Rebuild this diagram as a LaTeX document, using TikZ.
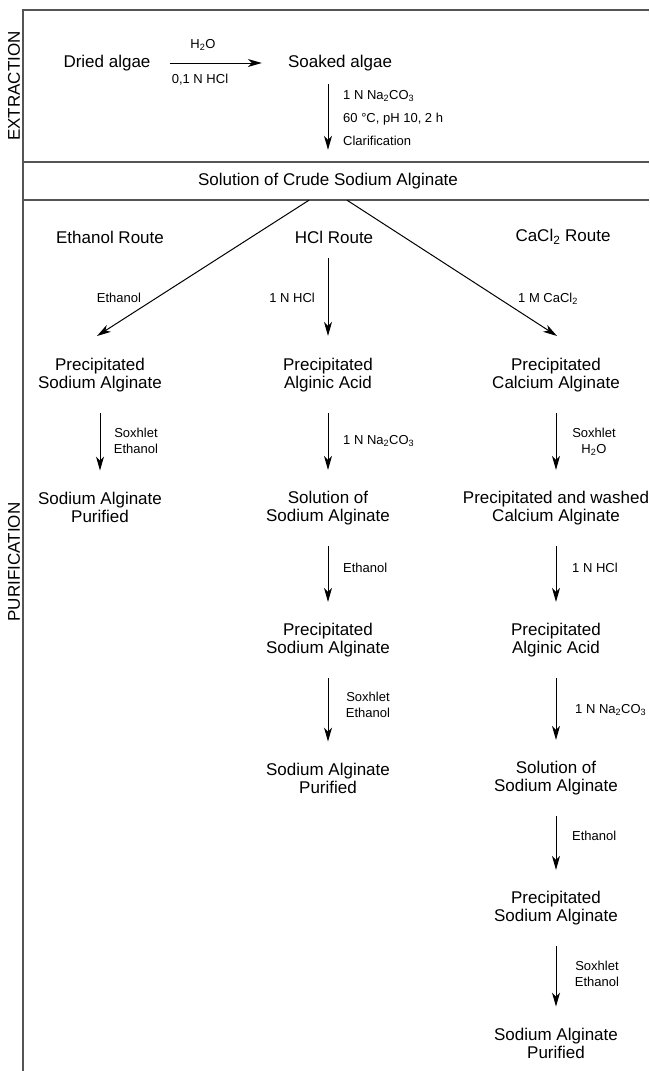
\documentclass[tikz,border=0pt]{standalone}
\usepackage{fontspec}
\setmainfont{Liberation Sans}
\usetikzlibrary{arrows.meta}
\definecolor{frameGray}{RGB}{85,85,85}
\newcommand{\stagefont}{\fontsize{17}{18}\selectfont}
\newcommand{\notefont}{\fontsize{13}{16}\selectfont}

\begin{document}
\begin{tikzpicture}[x=1pt,y=-1pt,
  stage/.style={font=\stagefont,align=center,inner sep=3pt},
  note/.style={font=\notefont,align=center,inner sep=0pt},
  flow/.style={-{Stealth[length=14pt,width=8pt,inset=4pt]},line width=1pt,
    shorten <=18pt,shorten >=18pt},
  frame/.style={frameGray,line width=1.1pt}]
  \useasboundingbox (0,0) rectangle (649,1071);

  % frame and the crude solution band
  \draw[frame] (23,1071) -- (23,10) -- (649,10);
  \draw[frame] (23,162) -- (649,162);
  \draw[frame] (23,200) -- (649,200);
  \node[rotate=90,font=\stagefont] (extr) at (14,86) {EXTRACTION};
  \node[rotate=90,font=\stagefont] (purif) at (14,562) {PURIFICATION};

  % extraction
  \node[stage] (dried) at (107,63) {Dried algae};
  \node[stage] (soaked) at (340,63) {Soaked algae};
  \node[stage,minimum height=38pt] (crude) at (328,181) {Solution of Crude Sodium Alginate};
  \draw[flow,shorten <=16pt,shorten >=23pt] (dried) -- (soaked);
  \node[note] (water) at (203,45) {H\textsubscript{2}O};
  \node[note] (acid01) at (200,80) {0,1 N HCl};
  \draw[flow,shorten <=10pt,shorten >=12pt] (soaked.south -| crude.north) -- (crude.north);
  \node[note,anchor=west,align=left,font=\fontsize{13}{23}\selectfont] (alkali) at (343,118)
    {1 N Na\textsubscript{2}CO\textsubscript{3}\\60 °C, pH 10, 2 h\\Clarification};

  % the three routes
  \node[stage] (routeEth) at (110,237) {Ethanol Route};
  \node[stage] (routeHCl) at (334,237) {HCl Route};
  \node[stage] (routeCa) at (563,237) {CaCl\textsubscript{2} Route};
  \coordinate (tipEth) at (97,336);
  \coordinate (tipCa) at (557,336);
  \draw[flow,shorten <=0pt,shorten >=0pt] ([xshift=-19pt]crude.south) -- (tipEth);
  \draw[flow,shorten <=0pt,shorten >=0pt] ([xshift=19pt]crude.south) -- (tipCa);
  \node[note] (ethA) at (119,298) {Ethanol};
  \node[note,anchor=east] (hclA) at (315,298) {1 N HCl};
  \node[note,anchor=west] (caA) at (518,299) {1 M CaCl\textsubscript{2}};

  % ethanol route
  \node[stage] (ethPrec) at (100,375) {Precipitated\\Sodium Alginate};
  \node[stage] (ethPure) at (100,507) {Sodium Alginate\\Purified};
  \draw[flow] (ethPrec) -- (ethPure);
  \node[note] (ethB) at (136,441) {Soxhlet\\Ethanol};

  % HCl route
  \node[stage] (hclAcid) at (328,375) {Precipitated\\Alginic Acid};
  \node[stage] (hclSol) at (328,508) {Solution of\\Sodium Alginate};
  \node[stage] (hclPrec) at (328,640) {Precipitated\\Sodium Alginate};
  \node[stage] (hclPure) at (328,778) {Sodium Alginate\\Purified};
  \draw[flow,shorten <=12pt,shorten >=19pt] (routeHCl.south -| hclAcid.north) -- (hclAcid.north);
  \draw[flow] (hclAcid) -- (hclSol);
  \draw[flow] (hclSol) -- (hclPrec);
  \draw[flow] (hclPrec) -- (hclPure);
  \node[note,anchor=west] (hclB) at (343,441) {1 N Na\textsubscript{2}CO\textsubscript{3}};
  \node[note,anchor=west] (hclC) at (343,568) {Ethanol};
  \node[note] (hclD) at (368,705) {Soxhlet\\Ethanol};

  % CaCl2 route
  \node[stage] (caPrec) at (556,375) {Precipitated\\Calcium Alginate};
  \node[stage] (caWash) at (556,508) {Precipitated and washed\\Calcium Alginate};
  \node[stage] (caAcid) at (556,640) {Precipitated\\Alginic Acid};
  \node[stage] (caSol) at (556,778) {Solution of\\Sodium Alginate};
  \node[stage] (caNaPrec) at (556,908) {Precipitated\\Sodium Alginate};
  \node[stage] (caPure) at (556,1043) {Sodium Alginate\\Purified};
  \draw[flow] (caPrec) -- (caWash);
  \draw[flow] (caWash) -- (caAcid);
  \draw[flow] (caAcid) -- (caSol);
  \draw[flow] (caSol) -- (caNaPrec);
  \draw[flow] (caNaPrec) -- (caPure);
  \node[note] (caB) at (594,442) {Soxhlet\\H\textsubscript{2}O};
  \node[note,anchor=west] (caC) at (572,568) {1 N HCl};
  \node[note,anchor=west] (caD) at (575,710) {1 N Na\textsubscript{2}CO\textsubscript{3}};
  \node[note,anchor=west] (caE) at (572,836) {Ethanol};
  \node[note] (caF) at (597,974) {Soxhlet\\Ethanol};
\end{tikzpicture}
\end{document}
